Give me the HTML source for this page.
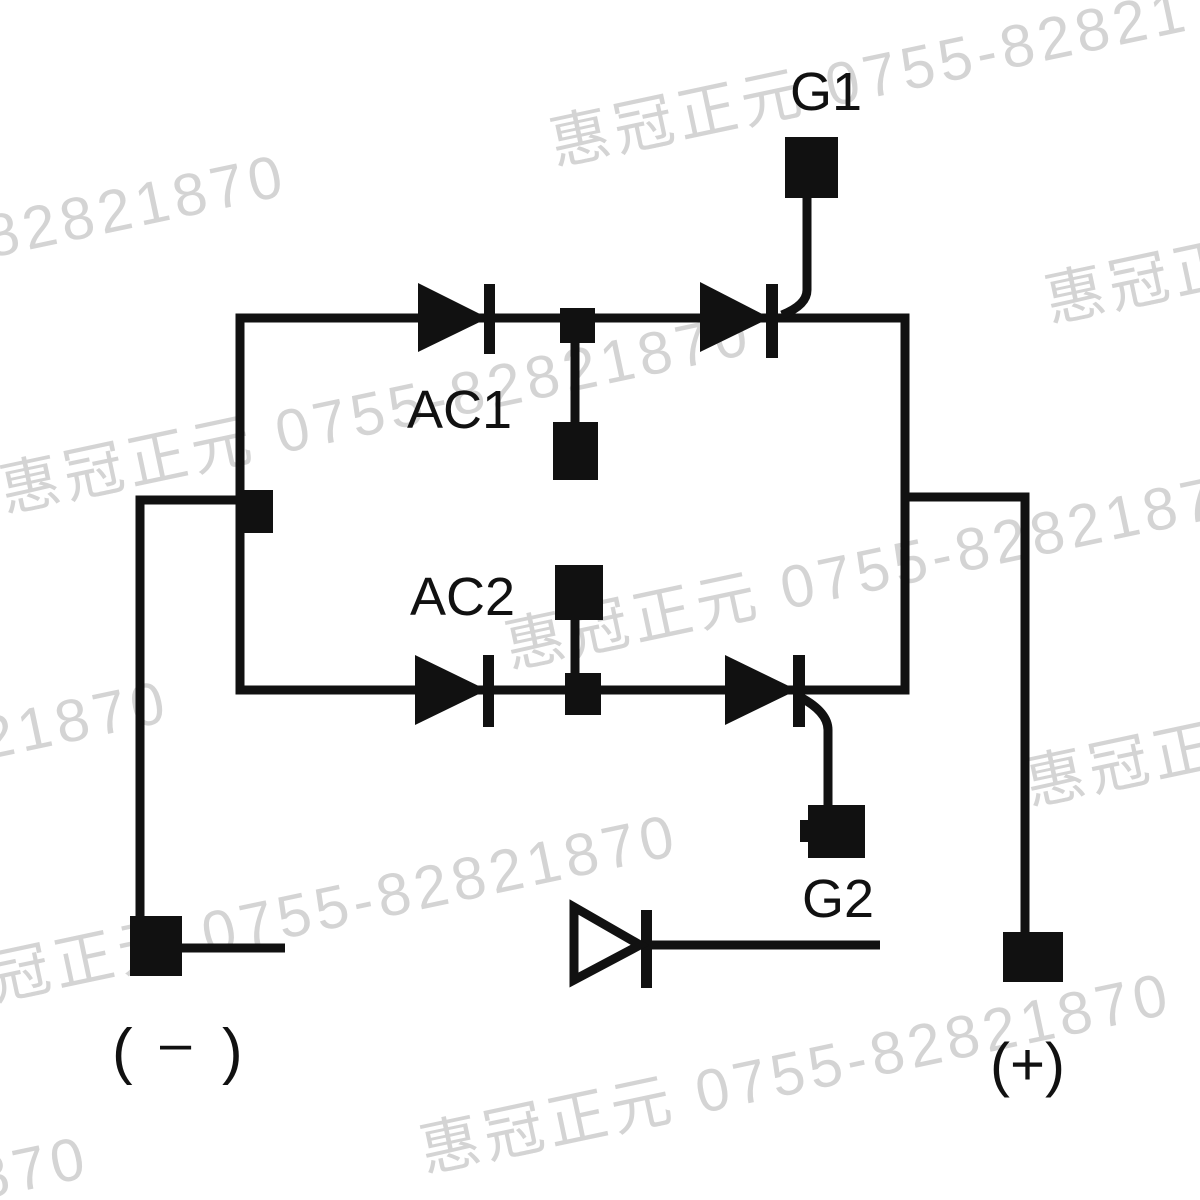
<!DOCTYPE html>
<html><head><meta charset="utf-8"><style>
html,body{margin:0;width:1200px;height:1200px;background:#fff;overflow:hidden}
svg{position:absolute;left:0;top:0}
</style></head><body>
<svg width="1200" height="1200" viewBox="0 0 1200 1200" xmlns="http://www.w3.org/2000/svg">
<g font-family="Liberation Sans, Noto Sans CJK SC, sans-serif" font-size="60" letter-spacing="5" fill="#d4d4d4">
<text x="-10" y="258" transform="rotate(-12 -10 258)">82821870</text>
<text x="555" y="165" transform="rotate(-12 555 165)">惠冠正元 0755-82821</text>
<text x="1050" y="322" transform="rotate(-12 1050 322)">惠冠正</text>
<text x="5" y="512" transform="rotate(-12 5 512)">惠冠正元 0755-82821870</text>
<text x="510" y="668" transform="rotate(-12 510 668)">惠冠正元 0755-82821870</text>
<text x="-15" y="760" transform="rotate(-12 -15 760)">21870</text>
<text x="1030" y="805" transform="rotate(-12 1030 805)">惠冠正</text>
<text x="-5" y="1000" transform="rotate(-12 -5 1000)">冠正元 0755-82821870</text>
<text x="425" y="1172" transform="rotate(-12 425 1172)">惠冠正元 0755-82821870</text>
<text x="-20" y="1200" transform="rotate(-12 -20 1200)">870</text>
</g>
<g stroke="#111" stroke-width="9" fill="none">
<polyline points="488,318 240,318 240,690 488,690"/>
<line x1="488" y1="318" x2="770" y2="318"/>
<polyline points="770,318 905,318 905,690 800,690"/>
<line x1="488" y1="690" x2="800" y2="690"/>
<polyline points="258,500 140,500 140,930"/>
<polyline points="905,497 1025,497 1025,940"/>
<line x1="180" y1="948" x2="285" y2="948"/>
<line x1="575" y1="318" x2="575" y2="430"/>
<line x1="575" y1="610" x2="575" y2="690"/>
<path d="M782,315 Q807,305 807,290 L807,195"/>
<path d="M800,697 Q828,712 828,730 L828,810"/>
<line x1="645" y1="945" x2="880" y2="945"/>
</g>
<g fill="#111">
<polygon points="418,283 418,352 488,318"/>
<rect x="484" y="284" width="11" height="70"/>
<polygon points="700,282 700,352 770,318"/>
<rect x="766" y="284" width="12" height="74"/>
<polygon points="415,655 415,725 487,690"/>
<rect x="483" y="655" width="11" height="72"/>
<polygon points="725,655 725,725 797,690"/>
<rect x="793" y="655" width="12" height="72"/>
<rect x="560" y="308" width="35" height="35"/>
<rect x="553" y="422" width="45" height="58"/>
<rect x="555" y="565" width="48" height="55"/>
<rect x="565" y="673" width="36" height="42"/>
<rect x="240" y="490" width="33" height="43"/>
<rect x="785" y="137" width="53" height="61"/>
<rect x="808" y="805" width="57" height="53"/>
<rect x="800" y="820" width="14" height="22"/>
<rect x="130" y="916" width="52" height="60"/>
<rect x="1003" y="932" width="60" height="50"/>
<rect x="641" y="910" width="11" height="78"/>
</g>
<polygon points="574,907 574,980 640,945" fill="none" stroke="#111" stroke-width="9"/>
<g font-family="Liberation Sans, sans-serif" font-size="54" fill="#111">
<text x="790" y="110">G1</text>
<text x="407" y="428">AC1</text>
<text x="410" y="615">AC2</text>
<text x="802" y="917">G2</text>
<text x="112" y="1072" font-size="62">(</text>
<text x="160" y="1062" font-size="56">–</text>
<text x="222" y="1072" font-size="62">)</text>
<text x="990" y="1085" font-size="60">(+)</text>
</g>
</svg>
</body></html>
